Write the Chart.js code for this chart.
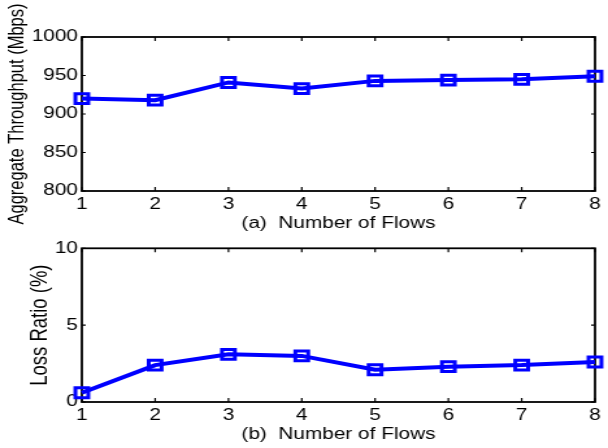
<!DOCTYPE html>
<html>
<head>
<meta charset="utf-8">
<script src="https://cdn.jsdelivr.net/npm/chart.js@4.4.1/dist/chart.umd.min.js"></script>
<style>
  html, body { margin: 0; padding: 0; background: #fff; overflow: hidden; }
  body { width: 608px; height: 448px; position: relative; }
  /* the figure is stretched sideways, like the original plot */
  canvas { position: absolute; left: 0; transform-origin: 0 0; transform: scaleX(1.2991); }
  #top { top: 0; }
  #bottom { top: 230px; }
</style>
</head>
<body>
<canvas id="top" width="468" height="240"></canvas>
<canvas id="bottom" width="468" height="218"></canvas>
<script>
// data
var flows = ['1', '2', '3', '4', '5', '6', '7', '8'];
var throughput = [920, 918, 941, 933, 943, 944, 945, 949];
var lossRatio = [0.6, 2.4, 3.1, 3.0, 2.1, 2.3, 2.4, 2.6];
var throughputTicks = [800, 1000, 50];   // min, max, step
var lossTicks = [0, 10, 5];

Chart.defaults.font.family = '"Liberation Sans", Arial, sans-serif';
Chart.defaults.color = '#000';

// box around the plot with inward ticks (matlab style)
var framePlugin = {
  id: 'frame',
  beforeDatasetsDraw: function(chart) {
    var ctx = chart.ctx, a = chart.chartArea;
    var xs = chart.scales.x, ys = chart.scales.y;
    ctx.save();
    ctx.strokeStyle = '#000';
    ctx.lineWidth = 1.8;
    ctx.strokeRect(a.left, a.top, a.right - a.left, a.bottom - a.top);
    ctx.lineWidth = 1.2;
    ctx.beginPath();
    xs.ticks.forEach(function(t, i) {
      var px = xs.getPixelForTick(i);
      ctx.moveTo(px, a.bottom); ctx.lineTo(px, a.bottom - 4);
      ctx.moveTo(px, a.top); ctx.lineTo(px, a.top + 4);
    });
    ys.ticks.forEach(function(t, i) {
      var py = ys.getPixelForTick(i);
      ctx.moveTo(a.left, py); ctx.lineTo(a.left + 3, py);
      ctx.moveTo(a.right, py); ctx.lineTo(a.right - 3, py);
    });
    ctx.stroke();
    ctx.restore();
  }
};

function createChart(id, values, range, yTitle, xTitle, lay) {
  var ctx = document.getElementById(id).getContext('2d');
  return new Chart(ctx, {
    type: 'line',
    data: {
      labels: flows,
      datasets: [{
        data: values,
        borderColor: '#0000ff',
        borderWidth: 4,
        tension: 0,
        fill: false,
        pointStyle: 'rect',
        pointRadius: 7,
        pointBorderWidth: 3,
        pointBorderColor: '#0000ff',
        pointBackgroundColor: 'rgba(0,0,0,0)',
        clip: false
      }]
    },
    options: {
      responsive: false,
      animation: false,
      events: [],
      layout: { padding: { top: lay.top, right: 5, left: 0, bottom: 0 } },
      plugins: { legend: { display: false }, tooltip: { enabled: false } },
      scales: {
        x: {
          type: 'category',
          offset: false,
          grid: { display: false, drawTicks: false },
          border: { display: false },
          ticks: { font: { size: 16 }, padding: 3.5, maxRotation: 0, autoSkip: false },
          title: { display: true, text: xTitle, font: { size: 16 }, padding: { top: 0, bottom: lay.xTitlePad } },
          afterFit: function(s) { s.height = lay.xHeight; s.paddingLeft = 0; s.paddingRight = 0; }
        },
        y: {
          min: range[0],
          max: range[1],
          grid: { display: false, drawTicks: false },
          border: { display: false },
          ticks: {
            stepSize: range[2], font: { size: 16 }, padding: 3,
            callback: function(v) { return String(v); }
          },
          title: { display: true, text: yTitle, font: { size: lay.yTitleSize }, padding: { top: lay.yTitlePad, bottom: 0 } },
          afterFit: function(s) { s.width = 63; s.paddingTop = 0; s.paddingBottom = 0; }
        }
      }
    },
    plugins: [framePlugin]
  });
}

var topChart = createChart('top', throughput, throughputTicks,
  'Aggregate Throughput (Mbps)', '(a)  Number of Flows',
  { top: 37, xHeight: 49, xTitlePad: 6.4, yTitleSize: 16.5, yTitlePad: 3.2 });

var bottomChart = createChart('bottom', lossRatio, lossTicks,
  'Loss Ratio (%)', '(b)  Number of Flows',
  { top: 18.3, xHeight: 46, xTitlePad: 3.4, yTitleSize: 18.5, yTitlePad: 19.7 });
</script>
</body>
</html>
